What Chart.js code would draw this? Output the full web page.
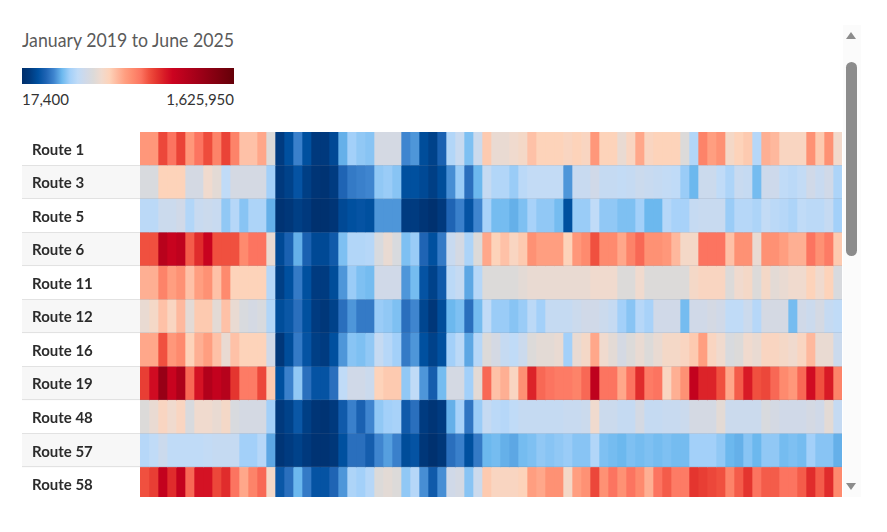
<!DOCTYPE html>
<html>
<head>
<meta charset="utf-8">
<script src="https://cdn.jsdelivr.net/npm/chart.js@4"></script>
<style>
html,body{margin:0;padding:0;background:#fff;width:887px;height:532px;overflow:hidden;font-family:Lato,sans-serif}
.abs{position:absolute}
#title{left:22px;top:27px;font-size:20px;line-height:24px;color:#5a5a5a;white-space:nowrap;transform:scaleX(.885);transform-origin:left center}
#bar{left:22px;top:68px;width:212px;height:16px}
#lo,#hi{top:89px;font-size:15px;line-height:20px;color:#333;white-space:nowrap}
#lo{left:22px}#hi{right:653px}
#panel{left:22px;top:132px;width:820px;height:365px;overflow:hidden}
#track{left:843px;top:25px;width:18px;height:472px;background:#fbfbfb}
#thumb{left:846px;top:62px;width:11px;height:194px;border-radius:6px;background:#8c8c8c}
#up{left:846px;top:32px;width:0;height:0;border-left:5.5px solid transparent;border-right:5.5px solid transparent;border-bottom:7px solid #8c8c8c}
#down{left:846px;top:483px;width:0;height:0;border-left:5.5px solid transparent;border-right:5.5px solid transparent;border-top:7px solid #8c8c8c}
</style>
</head>
<body>
<div id="title" class="abs">January 2019 to June 2025</div>
<div id="bar" class="abs"></div>
<div id="lo" class="abs">17,400</div>
<div id="hi" class="abs">1,625,950</div>
<div id="panel" class="abs"><canvas id="c" width="820" height="369"></canvas></div>
<div id="track" class="abs"></div>
<div id="thumb" class="abs"></div>
<div id="up" class="abs"></div>
<div id="down" class="abs"></div>
<script>
// monthly values, in tens of thousands of riders
const route1  = [82,82,100,92,101,82,92,99,88,101,88,72,72,78,56,8,14,25,14,7,7,12,31,38,36,35,52,52,52,26,28,13,10,19,41,47,34,48,70,60,60,62,64,72,68,68,68,66,68,66,82,68,68,60,66,78,66,68,68,68,56,41,88,80,84,64,68,70,42,76,74,66,66,66,84,70,84,63];
const route3  = [54,54,68,68,68,52,52,62,58,44,52,52,52,52,38,7,10,15,9,5,4,8,20,24,25,26,36,37,35,14,14,12,9,13,27,37,22,32,46,41,41,37,43,45,45,45,45,28,47,47,50,46,46,45,46,48,47,46,45,44,37,32,48,48,44,40,47,46,33,49,49,44,43,45,50,47,50,40];
const route5  = [43,43,48,48,50,41,47,48,47,36,42,35,40,40,31,4,6,9,7,3,3,5,12,14,15,14,28,28,28,8,8,5,3,7,20,25,15,26,39,33,33,31,34,39,36,36,33,14,37,37,44,36,36,34,34,38,32,32,42,39,39,46,47,47,47,37,42,42,40,45,43,42,40,44,43,43,46,38];
const route6  = [98,98,125,118,122,96,106,118,98,98,98,86,92,92,60,12,19,31,19,12,12,17,34,41,41,42,54,60,54,34,37,20,14,24,47,52,40,56,78,68,72,66,70,84,80,80,80,68,82,86,98,86,86,78,88,94,84,84,82,74,64,64,92,92,92,72,84,84,60,84,84,80,76,76,92,84,90,70];
const route11 = [76,76,88,80,84,72,80,84,72,86,68,68,68,68,42,9,14,24,14,8,8,13,28,37,34,33,50,50,50,28,33,15,10,17,43,46,30,42,56,56,56,56,58,60,60,60,60,60,60,60,62,62,62,56,56,62,56,56,56,56,56,64,66,66,66,56,62,64,56,64,58,60,62,62,68,62,68,54];
const route12 = [60,64,72,66,74,58,70,70,58,72,60,54,52,54,41,13,16,22,14,8,6,10,22,28,24,24,37,36,34,22,26,11,6,13,32,34,22,33,44,37,37,35,37,43,38,46,46,46,48,50,50,48,46,38,35,42,39,50,50,50,33,50,50,52,50,44,44,48,42,52,52,52,33,50,48,52,46,44];
const route16 = [78,78,98,82,86,68,76,80,72,60,72,68,68,68,50,6,13,24,15,9,8,14,28,35,34,36,46,42,38,24,28,14,10,14,38,43,30,42,56,52,46,44,48,56,58,58,60,38,60,64,78,62,58,52,56,60,56,60,64,64,66,70,80,66,62,54,56,62,60,66,66,64,62,66,74,60,60,48];
const route19 = [102,114,140,118,130,94,112,128,120,126,104,90,90,100,70,14,25,36,22,15,15,22,44,50,50,48,68,70,70,36,44,28,18,33,52,52,38,58,94,72,76,66,84,108,94,92,90,90,88,94,122,92,92,78,92,106,90,92,66,76,84,120,108,108,98,78,96,110,98,100,94,86,82,94,114,98,110,88];
const route48 = [56,60,66,62,66,54,62,62,60,64,54,52,52,52,38,7,10,16,9,5,4,7,17,25,19,26,36,38,39,17,22,8,5,8,31,39,23,37,46,43,42,44,46,46,46,46,46,47,47,48,62,48,48,46,46,52,46,46,47,47,48,52,52,52,58,48,48,48,48,54,52,50,50,50,52,50,58,46];
const route57 = [42,44,48,44,44,44,44,45,46,46,46,38,38,42,30,5,8,10,7,4,4,6,14,22,22,18,26,29,25,13,15,6,3,6,22,25,14,24,32,33,31,30,33,34,36,35,36,37,35,35,41,34,33,32,34,33,34,33,34,33,33,38,38,38,36,32,31,35,32,36,36,33,34,33,38,35,35,31];
const route58 = [98,102,120,106,120,94,112,112,100,106,92,78,88,94,64,16,22,32,24,15,15,20,28,40,38,42,56,58,56,36,42,27,17,27,50,52,35,48,70,66,66,66,68,80,78,84,84,64,80,84,100,84,92,84,92,86,76,92,96,90,90,104,102,100,98,88,96,104,92,96,96,92,92,96,106,96,106,86];

const routes = ["Route 1","Route 3","Route 5","Route 6","Route 11","Route 12","Route 16","Route 19","Route 48","Route 57","Route 58"];
const rows = [route1,route3,route5,route6,route11,route12,route16,route19,route48,route57,route58];
const monthNames = ["Jan","Feb","Mar","Apr","May","Jun","Jul","Aug","Sep","Oct","Nov","Dec"];
const scaleMin = 1.74, scaleMax = 162.595;
const stopValues = [2,8,14,20,26,32,38,44,50,56,62,68,74,80,86,92,98,104,110,116,136,163];
const stopColors = ["#002f6c","#003b80","#00509f","#1f64b4","#3f85cf","#6cb8ee","#a3d0f9","#c0dbf7","#d0d9e8","#dcdad9","#f0dace","#fdd3ba","#feb89d","#ff9e80","#fe8a6e","#fc7460","#f0503f","#e4352f","#d81a26","#cc0320","#a00018","#640008"];

function hex(c){return [1,3,5].map(i=>parseInt(c.substr(i,2),16));}
function colorFor(v){
  if(v<=stopValues[0])return stopColors[0];
  for(let k=1;k<stopValues.length;k++){
    if(v<=stopValues[k]){
      const f=(v-stopValues[k-1])/(stopValues[k]-stopValues[k-1]);
      const a=hex(stopColors[k-1]),b=hex(stopColors[k]);
      return "rgb("+a.map((x,j)=>Math.round(x+(b[j]-x)*f)).join(",")+")";
    }
  }
  return stopColors[stopColors.length-1];
}
document.getElementById("bar").style.background="linear-gradient(to right,"+
  stopValues.map((v,k)=>stopColors[k]+" "+Math.min(100,Math.max(0,(v-scaleMin)/(scaleMax-scaleMin)*100)).toFixed(2)+"%").join(",")+")";

const datasets=[];
for(let i=0;i<route1.length;i++){
  datasets.push({
    label:monthNames[i%12]+" "+(2019+Math.floor(i/12)),
    data:routes.map(()=>[i,i+1]),
    backgroundColor:rows.map(r=>colorFor(r[i])),
    borderWidth:0,
    barPercentage:1,
    categoryPercentage:1,
    grouped:false
  });
}
const rowDecor={
  id:"rowDecor",
  beforeDraw(chart){
    const y=chart.scales.y,ctx=chart.ctx;
    const h=y.getPixelForValue(1)-y.getPixelForValue(0);
    ctx.save();
    routes.forEach((r,k)=>{
      if(k%2===1){
        ctx.fillStyle="#f7f7f7";
        ctx.fillRect(0,y.getPixelForValue(k)-h/2,chart.chartArea.left,h);
      }
    });
    ctx.restore();
  },
  afterDatasetsDraw(chart){
    const y=chart.scales.y,ctx=chart.ctx;
    const h=y.getPixelForValue(1)-y.getPixelForValue(0);
    ctx.save();
    routes.forEach((r,k)=>{
      if(k===routes.length-1)return;
      const py=Math.round(y.getPixelForValue(k)+h/2)-0.5;
      ctx.strokeStyle="#e2e2e2";
      ctx.beginPath();ctx.moveTo(0,py);ctx.lineTo(chart.chartArea.left,py);ctx.stroke();
      ctx.strokeStyle="rgba(120,130,150,0.16)";
      ctx.beginPath();ctx.moveTo(chart.chartArea.left,py);ctx.lineTo(chart.chartArea.right,py);ctx.stroke();
    });
    ctx.restore();
  }
};
new Chart(document.getElementById("c"),{
  type:"bar",
  data:{labels:routes,datasets},
  plugins:[rowDecor],
  options:{
    indexAxis:"y",
    responsive:false,
    animation:false,
    devicePixelRatio:1,
    layout:{padding:{left:10,right:0,top:0,bottom:0}},
    plugins:{legend:{display:false},title:{display:false},tooltip:{enabled:false}},
    scales:{
      x:{type:"linear",min:0,max:route1.length,display:false},
      y:{
        type:"category",
        grid:{display:false,drawTicks:false},
        border:{display:false},
        ticks:{crossAlign:"far",padding:0,labelOffset:1,autoSkip:false,source:"labels",color:"#2b2b2b",font:{family:"Lato",size:15,weight:"bold"}},
        afterFit(s){s.width=108;s.paddingTop=0;s.paddingBottom=0;}
      }
    }
  }
});
</script>
</body>
</html>
